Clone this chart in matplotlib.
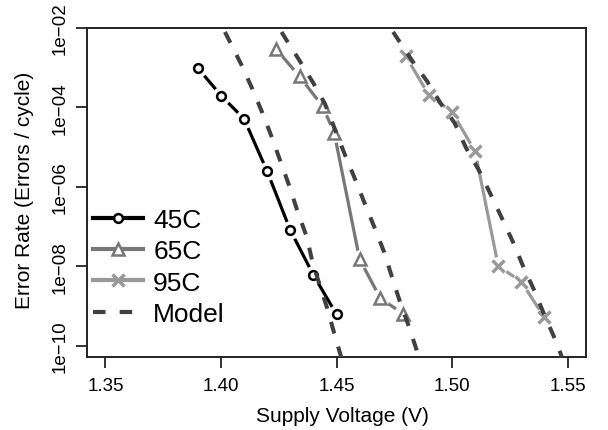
import numpy as np
import matplotlib
matplotlib.use("Agg")
import matplotlib.pyplot as plt
from matplotlib.lines import Line2D

plt.rcParams['font.family'] = ['Liberation Sans', 'DejaVu Sans']

# ---- data (voltages in V, error rates as log10 values) ----
v45 = [1.39, 1.40, 1.41, 1.42, 1.43, 1.44, 1.45]
log45 = [-3.01, -3.70, -4.29, -5.61, -7.09, -8.22, -9.21]

v65 = [1.424, 1.434, 1.444, 1.449, 1.460, 1.469, 1.479]
log65 = [-2.54, -3.22, -3.97, -4.64, -7.82, -8.81, -9.20]

v95 = [1.48, 1.49, 1.50, 1.51, 1.52, 1.53, 1.54]
log95 = [-2.71, -3.69, -4.11, -5.11, -7.99, -8.39, -9.29]

model1_v = [1.4017, 1.4037, 1.4087, 1.4134, 1.4178, 1.4216, 1.4255, 1.4294,
            1.4331, 1.4370, 1.4398, 1.4461, 1.4494, 1.4519, 1.4525]
model1_log = [-2.10, -2.33, -2.91, -3.51, -4.12, -4.69, -5.32, -5.95,
              -6.61, -7.24, -7.94, -9.08, -9.77, -10.26, -10.40]

model2_v = [1.4262, 1.4281, 1.4340, 1.4400, 1.4450, 1.4537, 1.4580, 1.4623,
            1.4667, 1.4706, 1.4740, 1.4775, 1.4814, 1.4848, 1.4860]
model2_log = [-2.10, -2.28, -2.82, -3.39, -3.91, -5.20, -5.80, -6.43,
              -7.06, -7.64, -8.27, -8.90, -9.53, -10.13, -10.40]

model3_v = [1.4745, 1.4762, 1.4827, 1.4892, 1.4950, 1.5011, 1.5061, 1.5119,
            1.5169, 1.5216, 1.5264, 1.5307, 1.5357, 1.5400, 1.5444, 1.5474, 1.5480]
model3_log = [-2.10, -2.25, -2.82, -3.34, -3.89, -4.39, -5.02, -5.61,
              -6.21, -6.79, -7.39, -7.99, -8.62, -9.23, -9.81, -10.26, -10.40]

xticks = [1.35, 1.40, 1.45, 1.50, 1.55]
xtick_labels = ["1.35", "1.40", "1.45", "1.50", "1.55"]
yticks_exp = [-10, -8, -6, -4, -2]
ytick_labels = ["1e\u221210", "1e\u221208", "1e\u221206", "1e\u221204", "1e\u221202"]

series = [
    ("45C", v45, log45, "#000000", "o", 6.3, 1.8),
    ("65C", v65, log65, "#777777", "^", 8.8, 1.8),
    ("95C", v95, log95, "#999999", "x", 8.3, 2.5),
]
model_color = "#404040"

fig = plt.figure(figsize=(6.08, 4.31), dpi=100)
ax = fig.add_axes([87/608, 1-358/431, (586-87)/608, (358-29)/431])

lw = 2.3
for name, v, lg, col, mk, ms, mew in series:
    y = 10.0 ** np.asarray(lg)
    ax.plot(v, y, color=col, lw=lw, zorder=2, solid_capstyle='butt')
    ax.plot(v, y, ls='none', marker='o', ms=13.5, mfc='white', mec='none', zorder=2.1)
    ax.plot(v, y, ls='none', marker=mk, ms=ms, mfc='white', mec=col, mew=mew, zorder=2.2)

for mv, ml in [(model1_v, model1_log), (model2_v, model2_log), (model3_v, model3_log)]:
    ax.plot(mv, 10.0 ** np.asarray(ml), color=model_color, lw=2.9,
            dashes=(3.0, 3.4), zorder=3)

ax.set_yscale('log')
ax.set_xlim(1.342, 1.558)
ax.set_ylim(10 ** -10.285, 1e-2)
ax.minorticks_off()
ax.set_xticks(xticks)
ax.set_xticklabels(xtick_labels)
ax.set_yticks([10.0 ** e for e in yticks_exp])
ax.set_yticklabels(ytick_labels)
for lab in ax.get_yticklabels():
    lab.set_rotation(90)
    lab.set_va('center')

ax.tick_params(axis='both', which='major', length=8, width=1.3, labelsize=13.5,
               direction='out', color='#222222')
ax.tick_params(axis='x', pad=6.5)
ax.tick_params(axis='y', pad=5)
for sp in ax.spines.values():
    sp.set_linewidth(1.4)
    sp.set_color('#222222')

ax.set_xlabel("Supply Voltage (V)", fontsize=15, va='center')
ax.xaxis.set_label_coords((342 - 87) / 499, (358 - 417) / 329)
ax.set_ylabel("Error Rate (Errors / cycle)", fontsize=15, va='center')
ax.yaxis.set_label_coords((25 - 87) / 499, (358 - 190) / 329)

handles = []
for name, v, lg, col, mk, ms, mew in series:
    handles.append(Line2D([], [], color=col, lw=3, marker=mk, ms=ms, mfc='white',
                          mec=col, mew=mew, label=name))
handles.append(Line2D([], [], color=model_color, lw=3, dashes=(3.0, 3.4), label="Model"))
leg = ax.legend(handles=handles, loc='center left', frameon=False, fontsize=19,
                bbox_to_anchor=(6 / 499, (358 - 268) / 329), borderaxespad=0,
                borderpad=0, handlelength=1.9, handletextpad=0.38,
                labelspacing=0.28, numpoints=1)

fig.savefig("out.png", dpi=100)
